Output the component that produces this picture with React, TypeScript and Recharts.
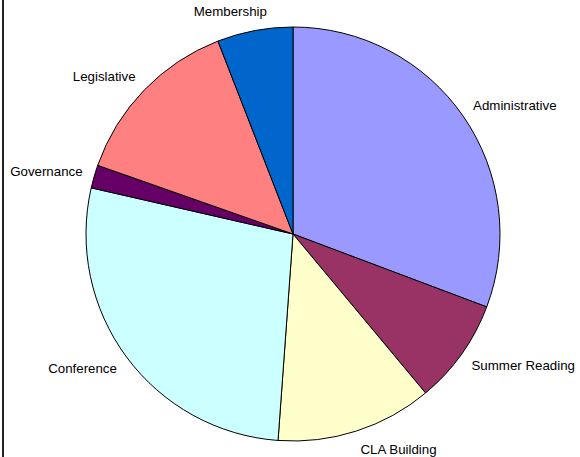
import React from 'react';
import { PieChart, Pie, Cell } from 'recharts';

const categories = ['Administrative', 'Summer Reading', 'CLA Building', 'Conference', 'Governance', 'Legislative', 'Membership'];
const shares = [30.7, 8.2, 12.2, 27.4, 1.8, 13.7, 5.9];
const colors = ['#9999FF', '#993366', '#FFFFCC', '#CCFFFF', '#660066', '#FF8080', '#0066CC'];

const data = categories.map((name, i) => ({ name, value: shares[i] }));

const FONT = '13.3px Arial, "Liberation Sans", sans-serif';
const RAD = Math.PI / 180;

let ctx: CanvasRenderingContext2D | null = null;
const textWidth = (s: string) => {
  if (!ctx) ctx = document.createElement('canvas').getContext('2d');
  if (!ctx) return s.length * 7;
  ctx.font = FONT;
  return ctx.measureText(s).width;
};

// Excel-like outside labels: box pushed away from the slice along its mid angle
const renderLabel = (props: any) => {
  const { cx, cy, midAngle, outerRadius, name } = props;
  const r = outerRadius + 12;
  const sx = Math.cos(midAngle * RAD); // horizontal component
  const sy = -Math.sin(midAngle * RAD); // downward component
  const px = cx + r * sx;
  const py = cy + r * sy;
  const w = textWidth(name);
  const h = 15;
  const k = Math.max(-1, Math.min(1, sx * 3.3));
  const centerX = px + (w / 2) * k;
  const centerY = py + (h / 2) * sy;
  return (
    <text
      x={centerX}
      y={centerY + 4.6}
      textAnchor="middle"
      fill="#000"
      style={{ font: FONT }}
    >
      {name}
    </text>
  );
};

export default function App() {
  return (
    <div style={{ position: 'fixed', left: 0, top: 0, width: 580, height: 457, background: '#fff' }}>
      <div style={{ position: 'absolute', left: 2, top: 0, width: 2, height: 457, background: '#222' }} />
      <PieChart width={580} height={457} margin={{ top: 0, right: 0, bottom: 0, left: 0 }}>
        <Pie
          data={data}
          dataKey="value"
          nameKey="name"
          cx={293}
          cy={234}
          outerRadius={207}
          startAngle={90}
          endAngle={-270}
          stroke="#000"
          strokeWidth={1}
          label={renderLabel}
          labelLine={false}
          isAnimationActive={false}
        >
          {data.map((d, i) => (
            <Cell key={d.name} fill={colors[i]} />
          ))}
        </Pie>
      </PieChart>
    </div>
  );
}
